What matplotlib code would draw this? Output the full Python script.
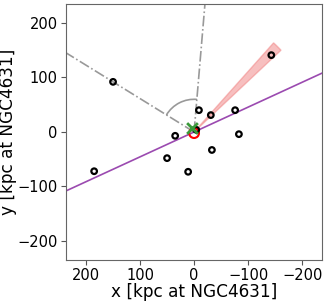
import numpy as np
import matplotlib.pyplot as plt
from matplotlib.patches import Wedge, Arc

# satellite positions [kpc]
sat_x = [150, -143, -9, -31, -76, -83, 35, -33, 50, 11, 185, -4]
sat_y = [92, 141, 40, 31, 40, -4, -7, -33, -48, -73, -72, 4]

host_x, host_y = 0, -2
cross_x, cross_y = 3, 8

# major axis slope, wedge angles, grey lines (deg)
major_slope = -0.456
wedge_theta = (132, 137)
wedge_r = 220
line_angles = [31.5, 94.9]
arc_r = 60
lim = 237

fig = plt.figure(figsize=(3.27, 3.01), dpi=100)
ax = fig.add_axes([0.202, 0.136, 0.783, 0.851])

xx = np.array([lim, -lim])
ax.plot(xx, major_slope * xx, color='#9b4ab0', lw=1.2, zorder=2)

for a in line_angles:
    r = 400
    ax.plot([0, r * np.cos(np.radians(a))], [0, r * np.sin(np.radians(a))],
            color='grey', ls='-.', lw=1.2, alpha=0.8, zorder=1)

ax.add_patch(Arc((0, 0), 2 * arc_r, 2 * arc_r, theta1=line_angles[0],
                 theta2=line_angles[1], color='grey', lw=1.2, alpha=0.8))

ax.add_patch(Wedge((0, 0), wedge_r, wedge_theta[0], wedge_theta[1],
                   facecolor='lightcoral', edgecolor='lightcoral', alpha=0.5, zorder=2))

ax.scatter(sat_x, sat_y, s=16, facecolors='none', edgecolors='black', lw=1.6, zorder=4)
ax.scatter([host_x], [host_y], s=50, facecolors='none', edgecolors='red', lw=1.5, zorder=3)
ax.scatter([cross_x], [cross_y], s=60, marker='x', color='#3a9a3a', lw=2, zorder=5)

ax.set_xlim(lim, -lim)
ax.set_ylim(-235, 235)
ax.set_xticks([200, 100, 0, -100, -200])
ax.set_yticks([-200, -100, 0, 100, 200])
ax.tick_params(labelsize=10.5, color='#555555', pad=2.5)
for s in ax.spines.values():
    s.set_color('#666666')
ax.set_xlabel('x [kpc at NGC4631]', fontsize=12.2, labelpad=0)
ax.set_ylabel('y [kpc at NGC4631]', fontsize=12.2, labelpad=0)

fig.savefig('out.png', dpi=100)
